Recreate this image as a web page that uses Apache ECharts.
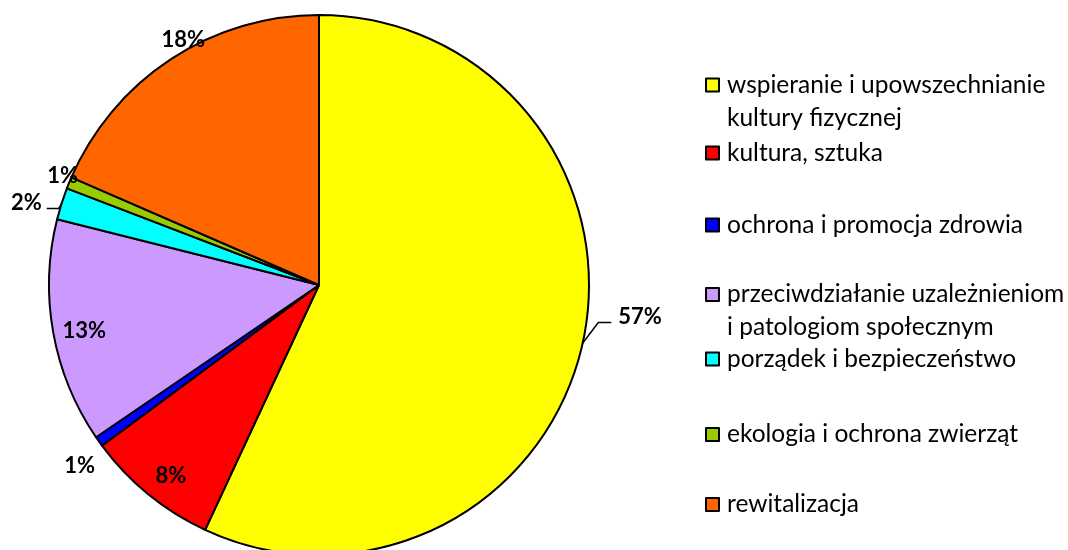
<!DOCTYPE html>
<html>
<head>
<meta charset="utf-8">
<script src="https://cdn.jsdelivr.net/npm/echarts@6/dist/echarts.min.js"></script>
<style>
html,body{margin:0;padding:0;background:#fff;}
#chart{width:1068px;height:550px;}
</style>
</head>
<body>
<div id="chart"></div>
<script>
const categories = [
  'wspieranie i upowszechnianie\nkultury fizycznej',
  'kultura, sztuka',
  'ochrona i promocja zdrowia',
  'przeciwdziałanie uzależnieniom\ni patologiom społecznym',
  'porządek i bezpieczeństwo',
  'ekologia i ochrona zwierząt',
  'rewitalizacja'
];
const values = [56.7, 7.9, 0.6, 13.4, 1.9, 0.7, 18.4];
const colors = ['#FFFF00', '#FF0000', '#0000FF', '#CC99FF', '#00FFFF', '#99CC00', '#FF6600'];

const chart = echarts.init(document.getElementById('chart'), null, {renderer: 'canvas'});

const center = [319, 285];
const labelFont = {fontFamily: 'Lato', fontWeight: 'bold', fontSize: 22, color: '#000'};

// per-slice label placement (style only)
const labelStyles = [
  {label: {position: 'outside'}, labelLine: {show: true, length: 15, length2: 12}, shift: [5, -30]},
  {label: {position: 'inside'}, labelLine: {show: false}, shift: [4, 5]},
  {label: {position: 'outside'}, labelLine: {show: false, length: 0, length2: 0}, shift: [0, 24]},
  {label: {position: 'inside'}, labelLine: {show: false}, shift: [2, 4]},
  {label: {position: 'outside'}, labelLine: {show: true, length: 4, length2: 12}, shift: [0, 0]},
  {label: {position: 'outside'}, labelLine: {show: false, length: 0, length2: 0}, shift: [13, -7]},
  {label: {position: 'outside'}, labelLine: {show: false, length: 0, length2: 0}, shift: [38, -19]}
];

const mainData = categories.map((c, i) => ({name: c, value: values[i], itemStyle: {color: colors[i]}}));
const labelData = categories.map((c, i) => ({
  name: c, value: values[i],
  label: labelStyles[i].label,
  labelLine: labelStyles[i].labelLine
}));

const legendCenters = [85, 153, 225, 294.5, 359, 434.5, 504.5];
const legends = categories.map((c, i) => {
  const multi = c.indexOf('\n') >= 0;
  return {
    data: [c],
    left: 705,
    top: legendCenters[i] - 16.5,
    padding: 0,
    orient: 'vertical',
    icon: multi ? 'path://M0 0H13V13H0Z M13 46' : 'rect',
    itemWidth: 13,
    itemHeight: multi ? 46 : 13,
    selectedMode: false,
    itemStyle: {borderColor: '#000', borderWidth: 2},
    textStyle: {
      fontFamily: 'Lato', fontSize: 24.5, color: '#000', lineHeight: 33,
      padding: [0, 0, 0, 3]
    }
  };
});

const option = {
  animation: false,
  backgroundColor: '#fff',
  legend: legends,
  series: [
    {
      type: 'pie',
      center: center,
      radius: [0, 270],
      startAngle: 90,
      clockwise: true,
      avoidLabelOverlap: false,
      label: {show: false},
      labelLine: {show: false},
      itemStyle: {borderColor: '#000', borderWidth: 2},
      emphasis: {disabled: true},
      data: mainData
    },
    {
      type: 'pie',
      center: center,
      radius: [205, 270],
      startAngle: 90,
      clockwise: true,
      silent: true,
      avoidLabelOverlap: false,
      itemStyle: {color: 'rgba(0,0,0,0)', borderWidth: 0},
      emphasis: {disabled: true},
      label: Object.assign({show: true, formatter: p => Math.round(p.percent) + '%', distanceToLabelLine: 4}, labelFont),
      labelLine: {lineStyle: {color: '#000', width: 1.5}},
      labelLayout: function (params) {
        const st = labelStyles[params.dataIndex];
        const out = {dx: st.shift[0], dy: st.shift[1]};
        const pts = params.labelLinePoints;
        if (st.labelLine.show && pts && pts.length) {
          const r = params.labelRect;
          const cy = r.y + r.height / 2 + st.shift[1] + 6;
          const onRight = pts[0][0] < r.x;
          const ex = onRight ? r.x + st.shift[0] - 7 : r.x + r.width + st.shift[0] + 5;
          const p1x = onRight ? ex - 13 : ex + 12;
          out.labelLinePoints = [pts[0], [p1x, cy], [ex, cy]];
        }
        return out;
      },
      data: labelData
    }
  ]
};
chart.setOption(option);
</script>
</body>
</html>
